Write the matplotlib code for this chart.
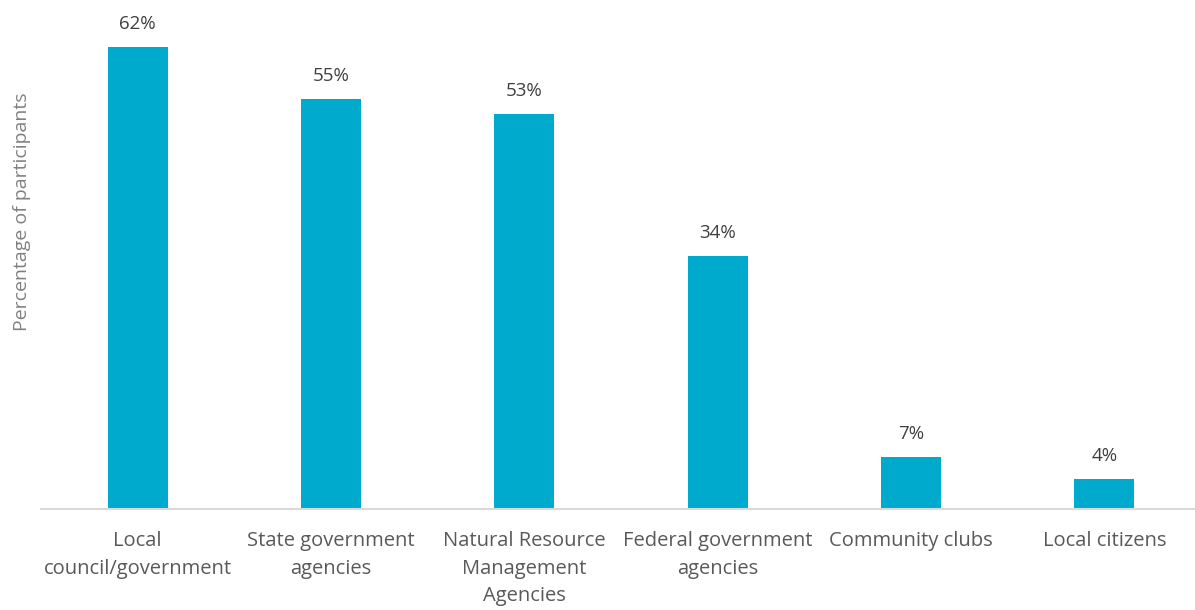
import matplotlib
matplotlib.use('Agg')
import numpy as np
from matplotlib import pyplot as plt

categories = ['Local\ncouncil/government', 'State government\nagencies',
              'Natural Resource\nManagement\nAgencies',
              'Federal government\nagencies', 'Community clubs',
              'Local citizens']
values = [62, 55, 53, 34, 7, 4]

plt.rcParams['font.family'] = ['Open Sans', 'DejaVu Sans']

fig = plt.figure(figsize=(11.95, 6.10), dpi=100)
ax = fig.add_axes([41 / 1195, 0.1656, 1160 / 1195, 0.8344])

x = np.arange(len(categories))
bars = ax.bar(x, values, width=0.31, color='#00AACC')

for rect, v in zip(bars, values):
    ax.annotate('{}%'.format(v), (rect.get_x() + rect.get_width() / 2, v),
                xytext=(0, 10), textcoords='offset points',
                ha='center', va='bottom', fontsize=13.5, color='#404040')

ax.set_xlim(-0.5, len(categories) - 0.5)
ax.set_ylim(0, 68.3)
ax.set_xticks(x)
ax.set_xticklabels(categories, fontsize=14.5, color='#595959', linespacing=1.5)
ax.tick_params(axis='x', length=0, pad=16)
ax.set_yticks([])

for side in ['top', 'right', 'left']:
    ax.spines[side].set_visible(False)
ax.spines['bottom'].set_color('#d9d9d9')
ax.spines['bottom'].set_linewidth(1.5)

fig.text(22 / 1195, 1 - 212 / 610, 'Percentage of participants', rotation=90,
         ha='center', va='center', fontsize=14, color='#808080')

fig.savefig('out.png', dpi=100)
